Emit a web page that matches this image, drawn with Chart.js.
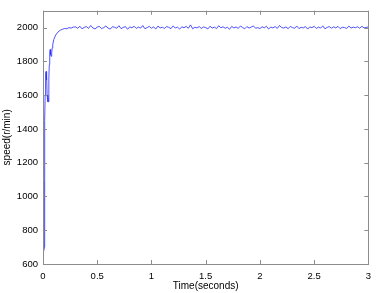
<!DOCTYPE html>
<html>
<head>
<meta charset="utf-8">
<script src="https://cdn.jsdelivr.net/npm/chart.js@4.4.1/dist/chart.umd.min.js"></script>
<style>
  body { margin: 0; background: #fff; }
  #speedChart { display: block; }
</style>
</head>
<body>
<canvas id="speedChart" width="378" height="293"></canvas>
<script>
// start-up transient
const transientTime = [0, 0.004, 0.008, 0.011, 0.014, 0.017, 0.02, 0.024, 0.028, 0.031, 0.035, 0.038, 0.042, 0.046,
    0.05, 0.054, 0.058, 0.062, 0.066, 0.07, 0.075, 0.08, 0.085, 0.09, 0.1, 0.11, 0.12, 0.13, 0.14, 0.16, 0.18,
    0.2, 0.22, 0.24, 0.26, 0.28];
const transientSpeed = [1090, 900, 680, 700, 1100, 1450, 1600, 1720, 1740, 1690, 1720, 1600, 1560, 1600,
    1560, 1700, 1780, 1850, 1870, 1840, 1830, 1850, 1880, 1900, 1930, 1945, 1960, 1965, 1975, 1985, 1990,
    1995, 1993, 2000, 1997, 2003];

// steady state, one sample every 0.02 s from 0.3 s
const steadyStart = 0.3;
const steadyStep = 0.02;
const steadySpeed = [
    2004, 1996, 2008, 1993, 2001, 2006, 1995, 2012, 1998, 1992,
    2003, 2007, 1994, 2000, 2009, 1997, 1991, 2005, 2002, 1996,
    2011, 1994, 2001, 2006, 1990, 2004, 1999, 2008, 1995, 2003,
    1997, 2012, 1993, 2000, 2007, 1996, 2004, 1992, 2009, 1998,
    2002, 1995, 2006, 2001, 1994, 2010, 1997, 2003, 1991, 2005,
    1999, 2007, 1996, 2016, 1993, 2002, 1998, 2006, 1995, 2004,
    2000, 1992, 2008, 1997, 2003, 1994, 2011, 1999, 2005, 1996,
    2002, 1990, 2007, 1998, 2004, 1995, 2009, 2001, 1993, 2006,
    1997, 2003, 2010, 1996, 2000, 1994, 2005, 1999, 2008, 1992,
    2003, 1998, 2006, 1995, 2012, 2001, 1997, 2004, 1993, 2007,
    2000, 1996, 2009, 1994, 2002, 1998, 2006, 1991, 2004, 1999,
    2008, 1995, 2003, 1997, 2010, 1993, 2001, 2006, 1996, 2004,
    1998, 2007, 1994, 2002, 2000, 1995, 2009, 1997, 2003, 1999,
    2005, 1996, 2008, 1998, 2001, 2004
];

const xTicks = [0, 0.5, 1, 1.5, 2, 2.5, 3];
const yTicks = [600, 800, 1000, 1200, 1400, 1600, 1800, 2000];

let points = [];
for (let i = 0; i < transientTime.length; i++) {
    points.push({ x: transientTime[i], y: transientSpeed[i] });
}
for (let i = 0; i < steadySpeed.length; i++) {
    points.push({ x: +(steadyStart + i * steadyStep).toFixed(3), y: steadySpeed[i] });
}

const frameColor = '#8c8c8c';

// matlab style box with inward ticks on all four sides
const boxPlugin = {
    id: 'boxPlugin',
    afterDraw(chart) {
        const c = chart.ctx;
        const a = chart.chartArea;
        const xs = chart.scales.x;
        const ys = chart.scales.y;
        const len = 4;
        c.save();
        c.strokeStyle = frameColor;
        c.lineWidth = 1;
        c.strokeRect(Math.round(a.left) + 0.5, Math.round(a.top) + 0.5,
            Math.round(a.right - a.left), Math.round(a.bottom - a.top));
        c.beginPath();
        xTicks.forEach(v => {
            let px = Math.round(xs.getPixelForValue(v)) + 0.5;
            c.moveTo(px, a.bottom); c.lineTo(px, a.bottom - len);
            c.moveTo(px, a.top); c.lineTo(px, a.top + len);
        });
        yTicks.forEach(v => {
            let py = Math.round(ys.getPixelForValue(v)) + 0.5;
            c.moveTo(a.left, py); c.lineTo(a.left + len, py);
            c.moveTo(a.right, py); c.lineTo(a.right - len, py);
        });
        c.stroke();
        c.restore();
    }
};

const tickFont = { family: 'Liberation Sans, Arial, sans-serif', size: 9.5 };
const titleFont = { family: 'Liberation Sans, Arial, sans-serif', size: 10 };

new Chart(document.getElementById('speedChart'), {
    type: 'line',
    data: {
        datasets: [{
            data: points,
            borderColor: 'rgba(50, 50, 255, 0.85)',
            borderWidth: 1,
            pointRadius: 0,
            tension: 0,
            fill: false
        }]
    },
    options: {
        responsive: false,
        animation: false,
        events: [],
        layout: { padding: { left: 0, right: 5, top: 5, bottom: 0 } },
        plugins: { legend: { display: false }, tooltip: { enabled: false } },
        scales: {
            x: {
                type: 'linear',
                min: 0,
                max: 3,
                grid: { display: false, drawTicks: false },
                border: { display: false },
                afterBuildTicks: (s) => { s.ticks = xTicks.map(v => ({ value: v })); },
                afterFit: (s) => { s.height = 29; },
                ticks: { color: '#000', font: tickFont, padding: 7, maxRotation: 0, callback: (v) => String(v) },
                title: {
                    display: true, text: 'Time(seconds)', color: '#000', font: titleFont,
                    padding: { top: 0, bottom: 1 }
                }
            },
            y: {
                min: 600,
                max: 2100,
                grid: { display: false, drawTicks: false },
                border: { display: false },
                afterBuildTicks: (s) => { s.ticks = yTicks.map(v => ({ value: v })); },
                afterFit: (s) => { s.width = 43; },
                ticks: { color: '#000', font: tickFont, padding: 5, callback: (v) => String(v) },
                title: {
                    display: true, text: 'speed(r/min)', color: '#000', font: titleFont,
                    padding: { top: 1, bottom: 0 }
                }
            }
        }
    },
    plugins: [boxPlugin]
});
</script>
</body>
</html>
